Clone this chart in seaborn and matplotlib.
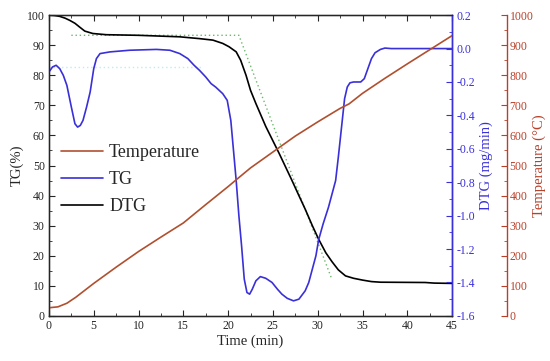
import matplotlib
matplotlib.use("Agg")
import matplotlib.pyplot as plt
from matplotlib.ticker import MultipleLocator
import seaborn as sns

# black curve, left axis (TG %)
tg_time = [0, 0.6, 1.2, 1.8, 2.3, 2.9, 3.4, 4.0, 4.9, 6.4, 10, 14.6, 16.8, 18.3, 19.4, 20.1,
           20.9, 21.4, 22.0, 22.5, 23.1, 24.2, 25.7, 27.1, 27.9, 28.6, 29.4, 30.1, 30.9, 31.6,
           32.3, 33.1, 34, 35, 36, 37, 42, 43, 45]
tg_val = [100, 99.9, 99.6, 99.0, 98.3, 97.3, 96.1, 94.7, 93.9, 93.5, 93.3, 92.8, 92.2, 91.7, 90.6,
          89.5, 87.8, 85, 80, 75, 70.6, 63, 54, 45.2, 40, 35.5, 30, 25.5, 21, 18,
          15.3, 13.3, 12.5, 11.9, 11.4, 11.2, 11.1, 10.9, 10.8]

# blue curve, inner right axis (mg/min)
dtg_time = [0, 0.4, 0.8, 1.2, 1.6, 2.0, 2.5, 2.9, 3.2, 3.5, 3.8, 4.2, 4.6, 5.0, 5.3, 5.7, 6.8,
            9, 12, 13.5, 14.6, 15.5, 16.2, 16.8, 17.5, 18.1, 18.6, 19.4, 19.9, 20.3, 20.6, 20.9,
            21.2, 21.5, 21.8, 22.1, 22.4, 22.7, 23.1, 23.6, 24.2, 24.9, 25.5, 26.0, 26.6, 27.3,
            27.9, 28.6, 29.0, 29.4, 29.8, 30.1, 30.6, 31.2, 31.6, 32, 32.3, 32.7, 33.0, 33.3,
            33.6, 34, 34.8, 35.2, 35.6, 36, 36.4, 37, 37.5, 38.2, 45]
dtg_val = [-0.14, -0.11, -0.10, -0.12, -0.16, -0.22, -0.35, -0.45, -0.47, -0.46, -0.43, -0.35,
           -0.26, -0.12, -0.06, -0.03, -0.02, -0.01, -0.005, -0.01, -0.03, -0.06, -0.10, -0.13,
           -0.17, -0.21, -0.23, -0.27, -0.31, -0.43, -0.61, -0.79, -1.0, -1.18, -1.38, -1.46,
           -1.47, -1.44, -1.39, -1.365, -1.375, -1.40, -1.44, -1.47, -1.495, -1.51, -1.50, -1.45,
           -1.40, -1.32, -1.24, -1.145, -1.05, -0.95, -0.87, -0.79, -0.65, -0.45, -0.3, -0.23,
           -0.205, -0.2, -0.2, -0.18, -0.12, -0.06, -0.025, -0.005, 0.003, 0.0, 0.0]

# temperature, outer right axis
temp_time = [0, 1, 2, 3, 5, 7.5, 10, 12.5, 15, 17.5, 20, 21, 22.5, 25, 27.5, 30, 32.5, 33.5,
             35, 37.5, 40, 42.5, 45]
temp_val = [27, 30, 42, 62, 108, 162, 214, 262, 309, 370, 430, 455, 492, 545, 598, 645, 690,
            705, 740, 790, 838, 885, 932]

# dotted tangent construction lines
tan_time = [2.5, 21.2, 31.6]
tan_val = [93.3, 93.3, 12]
guide_time = [0, 17]
guide_val = [82.8, 82.8]

blue = "#3a30d8"
brown = "#b0502f"
tcol = "#b8402a"

sns.set_style("ticks")
plt.rcParams["font.family"] = ["Liberation Serif", "DejaVu Serif"]

fig, ax = plt.subplots(figsize=(5.5, 3.61), dpi=100)
fig.subplots_adjust(left=0.089, right=0.822, bottom=0.125, top=0.958)
ax2 = ax.twinx()
ax3 = ax.twinx()
ax3.spines["right"].set_position(("axes", 1.136))

sns.lineplot(x=guide_time, y=guide_val, ax=ax, color="#b8eef4", lw=1, ls=(0, (1, 2)))
sns.lineplot(x=tan_time, y=tan_val, ax=ax, color="#6cb86c", lw=1, ls=(0, (1, 2)))
sns.lineplot(x=tg_time, y=tg_val, ax=ax, color="black", lw=1.2)
sns.lineplot(x=dtg_time, y=dtg_val, ax=ax2, color=blue, lw=1.2)
sns.lineplot(x=temp_time, y=temp_val, ax=ax3, color=brown, lw=1.2)

ax.set_xlim(0, 45)
ax.set_ylim(0, 100)
ax2.set_ylim(-1.6, 0.2)
ax3.set_ylim(0, 1000)

ax.xaxis.set_major_locator(MultipleLocator(5))
ax.xaxis.set_minor_locator(MultipleLocator(2.5))
ax.yaxis.set_major_locator(MultipleLocator(10))
ax.yaxis.set_minor_locator(MultipleLocator(5))
ax2.yaxis.set_major_locator(MultipleLocator(0.2))
ax2.yaxis.set_minor_locator(MultipleLocator(0.1))
ax3.yaxis.set_major_locator(MultipleLocator(100))
ax3.yaxis.set_minor_locator(MultipleLocator(50))

ax.tick_params(which="both", direction="in", top=True, labelsize=8.5, pad=3)
ax.tick_params(which="major", length=4)
ax.tick_params(which="minor", length=2)
ax2.tick_params(which="both", direction="in", colors=blue, labelsize=8.5)
ax2.tick_params(which="major", length=4)
ax2.tick_params(which="minor", length=2)
ax3.tick_params(which="both", direction="in", colors=tcol, labelsize=8.5, pad=2)
ax3.tick_params(which="major", length=4)
ax3.tick_params(which="minor", length=2)
ax2.yaxis.set_major_formatter(lambda v, p: f"{v:.1f}")

ax2.spines["right"].set_color(blue)
ax3.spines["right"].set_color(tcol)
for s in ["left", "right", "top", "bottom"]:
    ax.spines[s].set_linewidth(1)
ax2.spines["right"].set_linewidth(1)
ax3.spines["right"].set_linewidth(1)

ax.set_xlabel("Time (min)", fontsize=10.5, labelpad=2)
ax.set_ylabel("TG(%)", fontsize=10.5, labelpad=2)
ax2.set_ylabel("DTG (mg/min)", fontsize=10.5, color=blue, labelpad=3)
ax3.set_ylabel("Temperature (°C)", fontsize=10.5, color=tcol, labelpad=-1)

handles = [plt.Line2D([], [], color=brown, lw=1.2),
           plt.Line2D([], [], color=blue, lw=1.2),
           plt.Line2D([], [], color="black", lw=1.2)]
ax.legend(handles, ["Temperature", "TG", "DTG"], loc="upper left",
          bbox_to_anchor=(-0.01, 0.625), frameon=False, fontsize=13,
          handlelength=2.3, labelspacing=0.55, handletextpad=0.35)

fig.savefig("out.png", dpi=100)
